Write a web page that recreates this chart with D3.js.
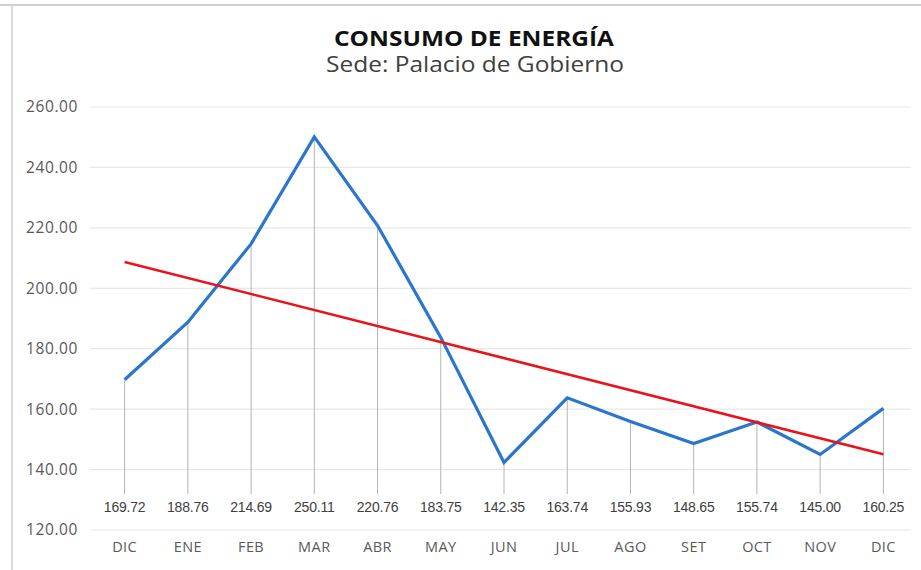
<!DOCTYPE html>
<html>
<head>
<meta charset="utf-8">
<script src="https://d3js.org/d3.v7.min.js"></script>
<style>
  body { margin: 0; background: #ffffff; }
  svg { display: block; }
</style>
</head>
<body>
<script>
//chart values
var months = ["DIC", "ENE", "FEB", "MAR", "ABR", "MAY", "JUN", "JUL", "AGO", "SET", "OCT", "NOV", "DIC"];
var consumo = [169.72, 188.76, 214.69, 250.11, 220.76, 183.75, 142.35, 163.74, 155.93, 148.65, 155.74, 145.00, 160.25];
//trend line read at first and last month
var trendEnds = [208.71, 145.05];
var yTicks = [120, 140, 160, 180, 200, 220, 240, 260];

//set up svg
var width = 921;
var height = 570;
var margin = {top: 107, right: 6, bottom: 40, left: 93};

var svg = d3.select("body").append("svg")
  .attr("width", width)
  .attr("height", height);

//frame of the pasted chart
svg.append("line")
  .attr("x1", 0).attr("x2", width)
  .attr("y1", 5).attr("y2", 5)
  .attr("stroke", "#cfcfcf")
  .attr("stroke-width", 2);

svg.append("line")
  .attr("x1", 12).attr("x2", 12)
  .attr("y1", 5).attr("y2", height)
  .attr("stroke", "#dadada")
  .attr("stroke-width", 2);

//titles
svg.append("text")
  .attr("x", 474)
  .attr("y", 46)
  .attr("text-anchor", "middle")
  .attr("textLength", 280)
  .attr("lengthAdjust", "spacingAndGlyphs")
  .style("font-family", "'Open Sans', sans-serif")
  .style("font-weight", "bold")
  .style("font-size", "21px")
  .style("fill", "#111111")
  .text("CONSUMO DE ENERGÍA");

svg.append("text")
  .attr("x", 475)
  .attr("y", 72)
  .attr("text-anchor", "middle")
  .attr("textLength", 298)
  .attr("lengthAdjust", "spacingAndGlyphs")
  .style("font-family", "'Open Sans', sans-serif")
  .style("font-size", "21px")
  .style("fill", "#404040")
  .text("Sede: Palacio de Gobierno");

//scales
var xChart = d3.scaleBand()
  .domain(d3.range(months.length))
  .range([margin.left, width - margin.right]);

var yChart = d3.scaleLinear()
  .domain([120, 260])
  .range([530, margin.top]);

function xMid(i) {
  return xChart(i) + xChart.bandwidth() / 2;
}

//gridlines
svg.append("g")
  .selectAll("line")
  .data(yTicks)
  .enter()
  .append("line")
    .attr("x1", 90)
    .attr("x2", 911)
    .attr("y1", function(d) { return yChart(d); })
    .attr("y2", function(d) { return yChart(d); })
    .attr("stroke", "#e8e8e8")
    .attr("stroke-width", 1.2);

//left axis
var yAxis = d3.axisLeft(yChart)
  .tickValues(yTicks)
  .tickFormat(d3.format(".2f"))
  .tickSize(0)
  .tickPadding(0);

svg.append("g")
  .attr("class", "y axis")
  .attr("transform", "translate(78,0)")
  .call(yAxis)
  .call(function(g) { g.select(".domain").remove(); })
  .selectAll("text")
    .style("font-family", "'Open Sans', sans-serif")
    .style("font-size", "15.5px")
    .style("letter-spacing", "0.6px")
    .style("fill", "#595959");

//bottom axis
var xAxis = d3.axisBottom(xChart)
  .tickFormat(function(d) { return months[d]; })
  .tickSize(0)
  .tickPadding(0);

svg.append("g")
  .attr("class", "xAxis")
  .attr("transform", "translate(0,542)")
  .call(xAxis)
  .call(function(g) { g.select(".domain").remove(); })
  .selectAll("text")
    .style("font-family", "'Open Sans', sans-serif")
    .style("font-size", "14.5px")
    .style("letter-spacing", "0.4px")
    .style("fill", "#595959");

//leader lines from the points to the labels
svg.append("g")
  .selectAll("line")
  .data(consumo)
  .enter()
  .append("line")
    .attr("x1", function(d, i) { return xMid(i); })
    .attr("x2", function(d, i) { return xMid(i); })
    .attr("y1", function(d) { return yChart(d); })
    .attr("y2", 494)
    .attr("stroke", "#b3b3b3")
    .attr("stroke-width", 1);

//trend line
var trend = svg.append("line")
  .attr("x1", xMid(0))
  .attr("y1", yChart(trendEnds[0]))
  .attr("x2", xMid(months.length - 1))
  .attr("y2", yChart(trendEnds[1]))
  .attr("stroke", "#e8141c")
  .attr("stroke-width", 2.6);

//consumption line
var line = d3.line()
  .x(function(d, i) { return xMid(i); })
  .y(function(d) { return yChart(d); });

svg.append("path")
  .datum(consumo)
  .attr("d", line)
  .attr("fill", "none")
  .attr("stroke", "#2a76cc")
  .attr("stroke-width", 3.2)
  .attr("stroke-linejoin", "miter");

trend.raise();

//data labels
svg.append("g")
  .selectAll("text")
  .data(consumo)
  .enter()
  .append("text")
    .attr("x", function(d, i) { return xMid(i); })
    .attr("y", 512)
    .attr("text-anchor", "middle")
    .style("font-family", "'Liberation Sans', Arial, sans-serif")
    .style("font-size", "14px")
    .style("letter-spacing", "-0.2px")
    .style("fill", "#404040")
    .text(function(d) { return d.toFixed(2); });
</script>
</body>
</html>
